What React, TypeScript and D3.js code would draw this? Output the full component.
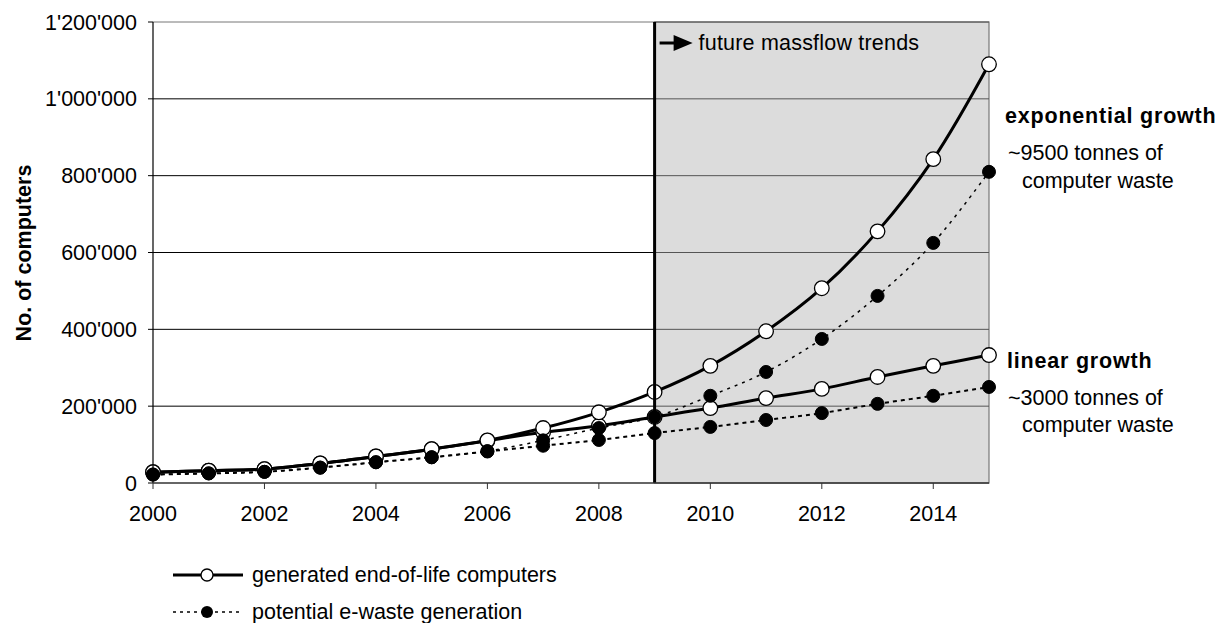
import * as d3 from 'd3';

const W = 1230;
const H = 623;
const PLOT = { left: 153, right: 989, top: 22, bottom: 483 };

const years = [2000, 2001, 2002, 2003, 2004, 2005, 2006, 2007, 2008, 2009, 2010, 2011, 2012, 2013, 2014, 2015];

// values in thousands of computers
const expGenerated = [28, 32, 36, 51, 69, 88, 111, 143, 184, 237, 305, 395, 507, 655, 843, 1090];
const expPotential = [22, 25, 29, 40, 54, 67, 83, 111, 143, 172, 227, 289, 375, 487, 625, 810];
const linGenerated = [28, 32, 36, 51, 69, 88, 110, 132, 149, 172, 195, 221, 245, 276, 305, 333];
const linPotential = [22, 25, 29, 40, 54, 67, 82, 97, 112, 130, 146, 164, 182, 206, 227, 250];

const yTicks = [0, 200000, 400000, 600000, 800000, 1000000, 1200000];
const xTicks = [2000, 2002, 2004, 2006, 2008, 2010, 2012, 2014];
const futureStart = 2009;

const FONT = 'Arial, "Liberation Sans", sans-serif';
const FS = 21.5;

export default function App() {
  const x = d3.scaleLinear().domain([2000, 2015]).range([PLOT.left, PLOT.right]);
  const y = d3.scaleLinear().domain([0, 1200000]).range([PLOT.bottom, PLOT.top]);
  const fmt = (v: number) => d3.format(',')(v).replace(/,/g, "'");

  const line = d3
    .line<number>()
    .x((_, i) => x(years[i]))
    .y((d) => y(d * 1000))
    .curve(d3.curveCatmullRom.alpha(0.5));

  const xf = x(futureStart);

  const markers = (vals: number[], open: boolean, key: string) =>
    vals.map((v, i) => (
      <circle
        key={key + i}
        cx={x(years[i])}
        cy={y(v * 1000)}
        r={open ? 7.3 : 6.5}
        fill={open ? '#fff' : '#000'}
        stroke="#000"
        strokeWidth={open ? 1.3 : 1}
      />
    ));

  return (
    <svg width={W} height={H} style={{ position: 'absolute', left: 0, top: 0 }} fontFamily={FONT}>
      <rect x={0} y={0} width={W} height={H} fill="#fff" />
      {/* future region */}
      <rect x={xf} y={PLOT.top} width={PLOT.right - xf} height={PLOT.bottom - PLOT.top} fill="#dcdcdc" stroke="#777" strokeWidth={1.2} />

      {/* gridlines */}
      {yTicks.slice(1).map((t) => (
        <g key={'g' + t}>
          <line x1={PLOT.left} x2={xf} y1={y(t)} y2={y(t)} stroke={t === 1200000 ? '#777' : '#000'} strokeWidth={1} />
          <line x1={xf} x2={PLOT.right} y1={y(t)} y2={y(t)} stroke="#555" strokeWidth={1} />
        </g>
      ))}

      {/* series lines */}
      <path d={line(linGenerated) || ''} fill="none" stroke="#000" strokeWidth={3} />
      <path d={line(expGenerated) || ''} fill="none" stroke="#000" strokeWidth={3} />
      <path d={line(linPotential) || ''} fill="none" stroke="#000" strokeWidth={2} strokeDasharray="4,4" />
      <path d={line(expPotential) || ''} fill="none" stroke="#000" strokeWidth={1.5} strokeDasharray="3,5" />

      {markers(linGenerated, true, 'lg')}
      {markers(expGenerated, true, 'eg')}
      {markers(linPotential, false, 'lp')}
      {markers(expPotential, false, 'ep')}

      {/* start of the future trends */}
      <line x1={xf} x2={xf} y1={PLOT.top} y2={PLOT.bottom} stroke="#000" strokeWidth={3} />
      <line x1={xf + 5} x2={xf + 22} y1={43} y2={43} stroke="#000" strokeWidth={3} />
      <path d={`M${xf + 19},${35} L${xf + 38},${43} L${xf + 19},${51} Z`} fill="#000" />
      <text x={xf + 44} y={50} fontSize={FS} fill="#000" letterSpacing={0.2}>future massflow trends</text>

      {/* y axis */}
      <line x1={PLOT.left} x2={PLOT.left} y1={PLOT.top} y2={PLOT.bottom} stroke="#000" strokeWidth={1.2} />
      {yTicks.map((t) => (
        <g key={'y' + t}>
          <line x1={PLOT.left - 5} x2={PLOT.left} y1={y(t)} y2={y(t)} stroke="#000" />
          <text x={PLOT.left - 16} y={y(t) + 7.5} textAnchor="end" fontSize={FS} fill="#000">{fmt(t)}</text>
        </g>
      ))}
      <text transform={`translate(31,253) rotate(-90)`} textAnchor="middle" fontSize={FS} fontWeight="bold" fill="#000">
        No. of computers
      </text>

      {/* x axis */}
      <line x1={PLOT.left} x2={PLOT.right} y1={PLOT.bottom} y2={PLOT.bottom} stroke="#333" strokeWidth={1.5} />
      {xTicks.map((t) => (
        <g key={'x' + t}>
          <line x1={x(t)} x2={x(t)} y1={PLOT.bottom} y2={PLOT.bottom + 6} stroke="#333" />
          <text x={x(t)} y={PLOT.bottom + 38} textAnchor="middle" fontSize={FS} fill="#000">{t}</text>
        </g>
      ))}

      {/* right side notes */}
      <text x={1005} y={123} fontSize={FS} fontWeight="bold" fill="#000" letterSpacing={0.8}>exponential growth</text>
      <text x={1008} y={160} fontSize={FS} fill="#000">~9500 tonnes of</text>
      <text x={1022} y={188} fontSize={FS} fill="#000">computer waste</text>
      <text x={1007} y={368} fontSize={FS} fontWeight="bold" fill="#000" letterSpacing={0.8}>linear growth</text>
      <text x={1008} y={405} fontSize={FS} fill="#000">~3000 tonnes of</text>
      <text x={1022} y={432} fontSize={FS} fill="#000">computer waste</text>

      {/* legend */}
      <line x1={173} x2={243} y1={575} y2={575} stroke="#000" strokeWidth={3} />
      <circle cx={207} cy={575} r={6} fill="#fff" stroke="#000" strokeWidth={1.3} />
      <text x={252} y={582} fontSize={FS} fill="#000">generated end-of-life computers</text>
      <line x1={173} x2={243} y1={612} y2={612} stroke="#000" strokeWidth={1.5} strokeDasharray="3,4" />
      <circle cx={207} cy={612} r={6} fill="#000" />
      <text x={252} y={619} fontSize={FS} fill="#000">potential e-waste generation</text>
    </svg>
  );
}
